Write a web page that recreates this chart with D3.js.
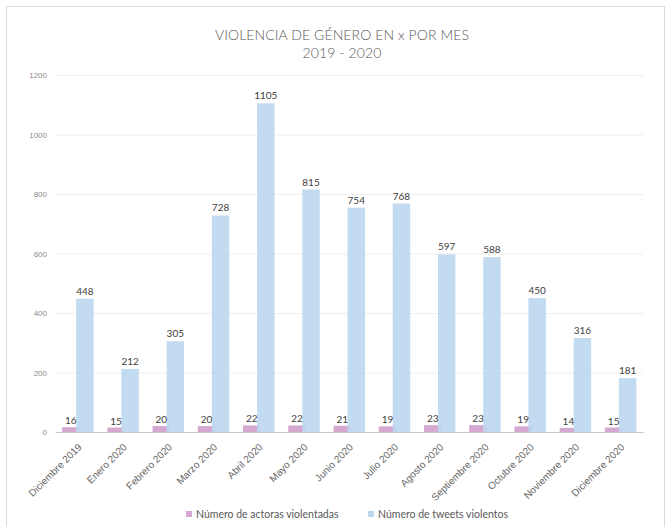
<!DOCTYPE html>
<html><head><meta charset="utf-8">
<script src="https://cdn.jsdelivr.net/npm/d3@7"></script>
<style>body{margin:0;background:#fff;} svg{font-family:Lato, "Open Sans", sans-serif;}</style>
</head><body>
<svg id="c" width="670" height="527"></svg>
<script>
const categories = ["Diciembre 2019","Enero 2020","Febrero 2020","Marzo 2020","Abril 2020","Mayo 2020","Junio 2020","Julio 2020","Agosto 2020","Septiembre 2020","Octubre 2020","Noviembre 2020","Diciembre 2020"];
const actoras = [16,15,20,20,22,22,21,19,23,23,19,14,15];
const tweets = [448,212,305,728,1105,815,754,768,597,588,450,316,181];
const yTicks = [0,200,400,600,800,1000,1200];
const seriesNames = ["Número de actoras violentadas","Número de tweets violentos"];
const colors = ["#D5A8D0","#BDD7EE"];

const svg = d3.select("#c");
svg.append("rect").attr("x",6.5).attr("y",6.5).attr("width",658).attr("height",530)
  .attr("fill","#fff").attr("stroke","#d9d9d9");

const x = d3.scaleBand().domain(categories).range([55,643]);
const y = d3.scaleLinear().domain([0,1200]).range([432,75]);

svg.append("text").attr("x",342).attr("y",40).attr("text-anchor","middle")
  .attr("fill","#595959").attr("font-size",14).attr("font-weight",300).attr("letter-spacing",0.1)
  .text("VIOLENCIA DE GÉNERO EN x POR MES");
svg.append("text").attr("x",342).attr("y",58).attr("text-anchor","middle")
  .attr("fill","#595959").attr("font-size",14).attr("font-weight",300).attr("letter-spacing",0.1)
  .text("2019 - 2020");

// grid + y axis
const ya = svg.append("g").attr("transform","translate(55,0)")
  .call(d3.axisLeft(y).tickValues(yTicks).tickFormat(d3.format("d")).tickSize(-588).tickPadding(8));
ya.select(".domain").remove();
ya.selectAll(".tick line").attr("stroke","#eeeeee");
ya.selectAll(".tick text").attr("fill","#8c8c8c").attr("font-size",8);
ya.selectAll(".tick").filter(d=>d===0).select("line").attr("stroke","none");

const bw = 17.5;
const c = d => x(d) + x.bandwidth()/2;
const g = svg.append("g");
g.selectAll(".p").data(categories).join("rect")
  .attr("x",(d)=>c(d)-15.5).attr("width",bw)
  .attr("y",(d,i)=>y(actoras[i])).attr("height",(d,i)=>y(0)-y(actoras[i]))
  .attr("fill",colors[0]);
g.selectAll(".b").data(categories).join("rect")
  .attr("x",(d)=>c(d)-1.5).attr("width",bw)
  .attr("y",(d,i)=>y(tweets[i])).attr("height",(d,i)=>y(0)-y(tweets[i]))
  .attr("fill",colors[1]).attr("fill-opacity",0.9);

// axis line
const xa = svg.append("g").attr("transform","translate(0,432)")
  .call(d3.axisBottom(x).tickSize(0).tickPadding(6));
xa.select(".domain").attr("stroke","#c8c8c8");
xa.selectAll(".tick text").attr("fill","#666666").attr("font-size",10)
  .attr("text-anchor","end").attr("dy","0.35em")
  .attr("transform","translate(-2,9) rotate(-45)");

// value labels
g.selectAll(".pl").data(categories).join("text")
  .attr("x",d=>c(d)-15.5+bw/2).attr("y",(d,i)=>y(actoras[i])-3)
  .attr("text-anchor","middle").attr("font-size",10).attr("fill","#404040")
  .text((d,i)=>actoras[i]);
g.selectAll(".bl").data(categories).join("text")
  .attr("x",d=>c(d)-1.5+bw/2).attr("y",(d,i)=>y(tweets[i])-4)
  .attr("text-anchor","middle").attr("font-size",10).attr("fill","#404040")
  .text((d,i)=>tweets[i]);

// legend
const lx = [186,368];
seriesNames.forEach((n,i)=>{
  svg.append("rect").attr("x",lx[i]).attr("y",511).attr("width",6).attr("height",6).attr("fill",colors[i]);
  svg.append("text").attr("x",lx[i]+10).attr("y",518).attr("font-size",10.5).attr("fill","#595959").text(n);
});
</script>
</body></html>
